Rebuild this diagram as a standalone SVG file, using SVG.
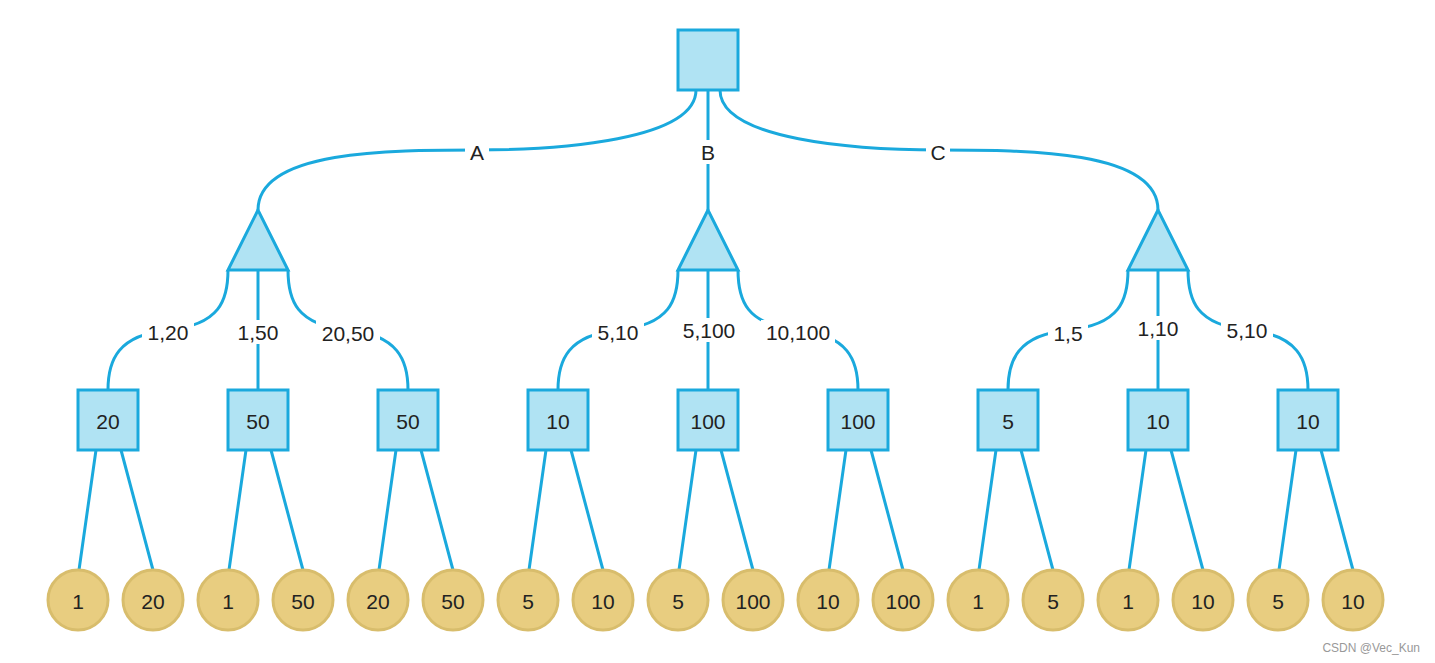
<svg xmlns="http://www.w3.org/2000/svg" width="1435" height="663" viewBox="0 0 1435 663">
<style>
.e{fill:none;stroke:#1aa9dd;stroke-width:3}
.sq{fill:#b0e3f3;stroke:#1aa9dd;stroke-width:3}
.ci{fill:#e8cd80;stroke:#d8bd6c;stroke-width:3}
.t{font-family:"Liberation Sans",Arial,sans-serif;font-size:21px;fill:#222;text-anchor:middle;dominant-baseline:central}
.lb{fill:#fff}
.wm{font-family:"Liberation Sans",Arial,sans-serif;font-size:12px;fill:#999;text-anchor:end}
</style>
<rect width="1435" height="663" fill="#fff"/>
<g id="connectors">
<path class="e" d="M696,90 C696,140 560,150 476,150 C390,150 258,150 258,210"/>
<path class="e" d="M708,90 L708,210"/>
<path class="e" d="M720,90 C720,140 856,150 940,150 C1026,150 1158,150 1158,210"/>
<g id="tri-edges">
<path class="e" d="M228,270 C228,300 220,325 168,330 C118,335 108,360 108,390"/>
<path class="e" d="M258,270 L258,390"/>
<path class="e" d="M288,270 C288,300 296,325 348,330 C398,335 408,360 408,390"/>
<path class="e" d="M678,270 C678,300 670,325 618,330 C568,335 558,360 558,390"/>
<path class="e" d="M708,270 L708,390"/>
<path class="e" d="M738,270 C738,300 746,325 798,330 C848,335 858,360 858,390"/>
<path class="e" d="M1128,270 C1128,300 1120,325 1068,330 C1018,335 1008,360 1008,390"/>
<path class="e" d="M1158,270 L1158,390"/>
<path class="e" d="M1188,270 C1188,300 1196,325 1248,330 C1298,335 1308,360 1308,390"/>
</g>
<g id="leaf-edges">
<path class="e" d="M96,450 L79,570 M121,450 L153,570"/>
<path class="e" d="M246,450 L229,570 M271,450 L303,570"/>
<path class="e" d="M396,450 L379,570 M421,450 L453,570"/>
<path class="e" d="M546,450 L529,570 M571,450 L603,570"/>
<path class="e" d="M696,450 L679,570 M721,450 L753,570"/>
<path class="e" d="M846,450 L829,570 M871,450 L903,570"/>
<path class="e" d="M996,450 L979,570 M1021,450 L1053,570"/>
<path class="e" d="M1146,450 L1129,570 M1171,450 L1203,570"/>
<path class="e" d="M1296,450 L1279,570 M1321,450 L1353,570"/>
</g>
<g id="edge-labels">
<rect class="lb" x="465" y="140" width="24" height="24"/><text class="t" x="477" y="152">A</text>
<rect class="lb" x="696" y="140" width="24" height="24"/><text class="t" x="708" y="152">B</text>
<rect class="lb" x="926" y="140" width="24" height="24"/><text class="t" x="938" y="152">C</text>
<rect class="lb" x="142" y="320" width="52" height="24"/><text class="t" x="168" y="332">1,20</text>
<rect class="lb" x="232" y="320" width="52" height="24"/><text class="t" x="258" y="332">1,50</text>
<rect class="lb" x="316" y="320" width="64" height="24"/><text class="t" x="348" y="333">20,50</text>
<rect class="lb" x="592" y="320" width="52" height="24"/><text class="t" x="618" y="332">5,10</text>
<rect class="lb" x="677" y="318" width="64" height="24"/><text class="t" x="709" y="330">5,100</text>
<rect class="lb" x="761" y="320" width="74" height="24"/><text class="t" x="798" y="332">10,100</text>
<rect class="lb" x="1048" y="320" width="40" height="24"/><text class="t" x="1068" y="333">1,5</text>
<rect class="lb" x="1132" y="316" width="52" height="24"/><text class="t" x="1158" y="328">1,10</text>
<rect class="lb" x="1221" y="318" width="52" height="24"/><text class="t" x="1247" y="330">5,10</text>
</g>
</g>
<g id="root"><rect class="sq" x="678" y="30" width="60" height="60"/></g>
<g id="chanceA"><polygon class="sq" points="258,210 228,270 288,270"/></g>
<g id="chanceB"><polygon class="sq" points="708,210 678,270 738,270"/></g>
<g id="chanceC"><polygon class="sq" points="1158,210 1128,270 1188,270"/></g>
<g id="s1"><rect class="sq" x="78" y="390" width="60" height="60"/><text class="t" x="108" y="421">20</text></g>
<g id="s2"><rect class="sq" x="228" y="390" width="60" height="60"/><text class="t" x="258" y="421">50</text></g>
<g id="s3"><rect class="sq" x="378" y="390" width="60" height="60"/><text class="t" x="408" y="421">50</text></g>
<g id="s4"><rect class="sq" x="528" y="390" width="60" height="60"/><text class="t" x="558" y="421">10</text></g>
<g id="s5"><rect class="sq" x="678" y="390" width="60" height="60"/><text class="t" x="708" y="421">100</text></g>
<g id="s6"><rect class="sq" x="828" y="390" width="60" height="60"/><text class="t" x="858" y="421">100</text></g>
<g id="s7"><rect class="sq" x="978" y="390" width="60" height="60"/><text class="t" x="1008" y="421">5</text></g>
<g id="s8"><rect class="sq" x="1128" y="390" width="60" height="60"/><text class="t" x="1158" y="421">10</text></g>
<g id="s9"><rect class="sq" x="1278" y="390" width="60" height="60"/><text class="t" x="1308" y="421">10</text></g>
<g id="c1"><circle class="ci" cx="78" cy="600" r="30"/><text class="t" x="78" y="601">1</text></g>
<g id="c2"><circle class="ci" cx="153" cy="600" r="30"/><text class="t" x="153" y="601">20</text></g>
<g id="c3"><circle class="ci" cx="228" cy="600" r="30"/><text class="t" x="228" y="601">1</text></g>
<g id="c4"><circle class="ci" cx="303" cy="600" r="30"/><text class="t" x="303" y="601">50</text></g>
<g id="c5"><circle class="ci" cx="378" cy="600" r="30"/><text class="t" x="378" y="601">20</text></g>
<g id="c6"><circle class="ci" cx="453" cy="600" r="30"/><text class="t" x="453" y="601">50</text></g>
<g id="c7"><circle class="ci" cx="528" cy="600" r="30"/><text class="t" x="528" y="601">5</text></g>
<g id="c8"><circle class="ci" cx="603" cy="600" r="30"/><text class="t" x="603" y="601">10</text></g>
<g id="c9"><circle class="ci" cx="678" cy="600" r="30"/><text class="t" x="678" y="601">5</text></g>
<g id="c10"><circle class="ci" cx="753" cy="600" r="30"/><text class="t" x="753" y="601">100</text></g>
<g id="c11"><circle class="ci" cx="828" cy="600" r="30"/><text class="t" x="828" y="601">10</text></g>
<g id="c12"><circle class="ci" cx="903" cy="600" r="30"/><text class="t" x="903" y="601">100</text></g>
<g id="c13"><circle class="ci" cx="978" cy="600" r="30"/><text class="t" x="978" y="601">1</text></g>
<g id="c14"><circle class="ci" cx="1053" cy="600" r="30"/><text class="t" x="1053" y="601">5</text></g>
<g id="c15"><circle class="ci" cx="1128" cy="600" r="30"/><text class="t" x="1128" y="601">1</text></g>
<g id="c16"><circle class="ci" cx="1203" cy="600" r="30"/><text class="t" x="1203" y="601">10</text></g>
<g id="c17"><circle class="ci" cx="1278" cy="600" r="30"/><text class="t" x="1278" y="601">5</text></g>
<g id="c18"><circle class="ci" cx="1353" cy="600" r="30"/><text class="t" x="1353" y="601">10</text></g>
<text class="wm" x="1420" y="652">CSDN @Vec_Kun</text>
</svg>
